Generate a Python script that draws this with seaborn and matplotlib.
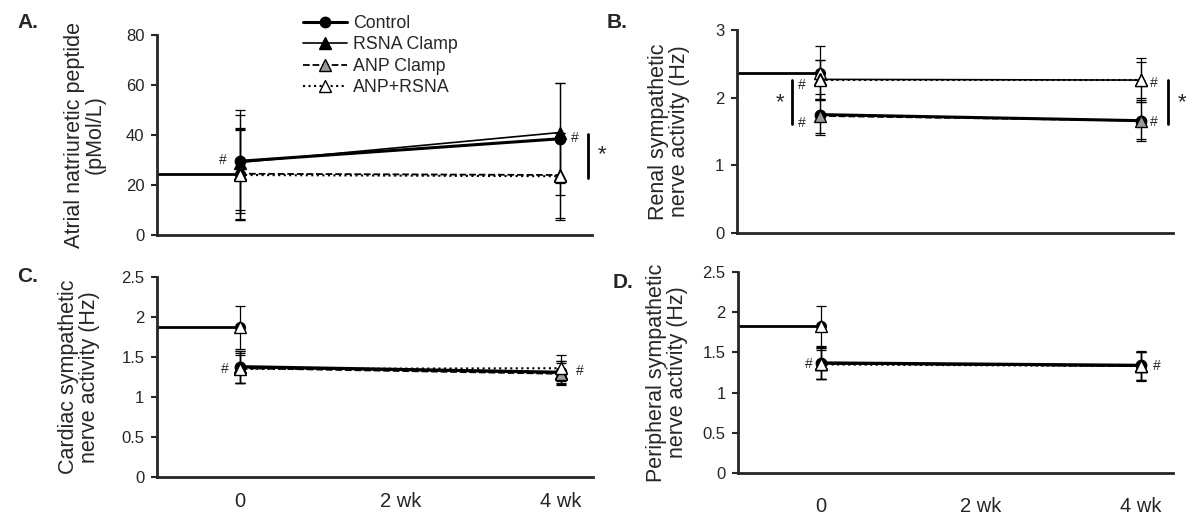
import matplotlib
matplotlib.use("Agg")
import matplotlib.pyplot as plt
import pandas as pd
import seaborn as sns

groups = ["Control", "RSNA Clamp", "ANP Clamp", "ANP+RSNA"]
weeks = [0, 4]
week_ticks = [0, 2, 4]
week_labels = ["0", "2 wk", "4 wk"]

# A. atrial natriuretic peptide (pMol/L)
anp_base, anp_base_sd = 24.5, 18.5
anp_mean = [[29.5, 38.5], [29.0, 41.0], [24.5, 24.0], [24.0, 23.5]]
anp_sd = [[20.5, 22.5], [19.0, 20.0], [18.0, 17.0], [18.0, 17.5]]

# B. renal SNA (Hz)
rsna_base, rsna_base_sd = 2.37, 0.40
rsna_mean = [[1.75, 1.66], [2.27, 2.26], [1.73, 1.66], [2.26, 2.26]]
rsna_sd = [[0.30, 0.27], [0.29, 0.26], [0.25, 0.30], [0.30, 0.32]]

# C. cardiac SNA (Hz)
csna_base, csna_base_sd = 1.87, 0.27
csna_mean = [[1.38, 1.31], [1.37, 1.30], [1.36, 1.29], [1.35, 1.36]]
csna_sd = [[0.20, 0.14], [0.20, 0.15], [0.19, 0.13], [0.18, 0.16]]

# D. peripheral SNA (Hz)
psna_base, psna_base_sd = 1.83, 0.25
psna_mean = [[1.37, 1.34], [1.36, 1.33], [1.36, 1.33], [1.35, 1.33]]
psna_sd = [[0.20, 0.18], [0.19, 0.17], [0.19, 0.17], [0.18, 0.18]]

styles = {
    "Control":    dict(marker="o", markerfacecolor="k", linestyle="-", linewidth=2.2, markersize=7.5),
    "RSNA Clamp": dict(marker="^", markerfacecolor="k", linestyle="-", linewidth=1.2, markersize=8),
    "ANP Clamp":  dict(marker="^", markerfacecolor="#9a9a9a", linestyle="--", linewidth=1.3, markersize=8),
    "ANP+RSNA":   dict(marker="^", markerfacecolor="white", linestyle=":", linewidth=1.5, markersize=8),
}

sns.set_style("ticks")
plt.rcParams["font.family"] = ["Liberation Sans", "DejaVu Sans"]

fig = plt.figure(figsize=(11.94, 5.21), dpi=100)
W, H = 1194, 521


def draw_panel(rect, base, base_sd, means, sds, ylim, yticks, yticklabels, ylabel, label_x, show_x, xpad=11):
    ax = fig.add_axes(rect)
    ax.set_xlim(-1.03, 4.4)
    ax.set_ylim(*ylim)
    x0 = ax.get_xlim()[0]
    eb = dict(fmt="none", ecolor="k", elinewidth=0.9, capsize=3.5, capthick=0.9, zorder=1)

    # baseline period
    ax.plot([x0, 0], [base, base], color="k", lw=2, solid_capstyle="butt", zorder=2)
    ax.errorbar([0], [base], yerr=[base_sd], **eb)
    for m, s in zip(means, sds):
        ax.errorbar(weeks, m, yerr=s, **eb)
    ax.plot([0], [base], marker="o", color="k", markersize=7, zorder=3)
    ax.plot([0], [base], marker="^", markerfacecolor="white", markeredgecolor="k",
            markersize=8, linestyle="none", zorder=3)

    handles = []
    for g, m in zip(groups, means):
        df = pd.DataFrame({"week": weeks, "value": m})
        sns.lineplot(data=df, x="week", y="value", ax=ax, color="k", estimator=None,
                     markeredgecolor="k", markeredgewidth=1, zorder=4, label=g, **styles[g])
        handles.append(ax.lines[-1])
    if ax.get_legend() is not None:
        ax.get_legend().remove()

    sns.despine(ax=ax)
    for sp in ("left", "bottom"):
        ax.spines[sp].set_linewidth(2)
    ax.set_yticks(yticks)
    ax.set_yticklabels(yticklabels, fontsize=12)
    ax.tick_params(axis="y", direction="out", length=4, width=1.5, pad=5)
    ax.set_xticks(week_ticks)
    if show_x:
        ax.set_xticklabels(week_labels, fontsize=14.5)
    else:
        ax.set_xticklabels([])
    ax.tick_params(axis="x", length=0, pad=xpad)
    ax.set_xlabel("")
    ax.set_ylabel(ylabel, fontsize=15.5, linespacing=1.0)
    ax.yaxis.set_label_coords(label_x, 0.5)
    return ax, handles


axA, handles = draw_panel([157 / W, 1 - 235 / H, 435 / W, 200 / H], anp_base, anp_base_sd, anp_mean, anp_sd,
                          (0, 80), [0, 20, 40, 60, 80], ["0", "20", "40", "60", "80"],
                          "Atrial natriuretic peptide\n(pMol/L)", -0.117, False)
axB, _ = draw_panel([737 / W, 1 - 233 / H, 436 / W, 203 / H], rsna_base, rsna_base_sd, rsna_mean, rsna_sd,
                    (0, 3), [0, 1, 2, 3], ["0", "1", "2", "3"],
                    "Renal sympathetic\nnerve activity (Hz)", -0.108, False)
half = [0, 0.5, 1, 1.5, 2, 2.5]
half_lab = ["0", "0.5", "1", "1.5", "2", "2.5"]
axC, _ = draw_panel([157 / W, 1 - 477 / H, 436 / W, 200 / H], csna_base, csna_base_sd, csna_mean, csna_sd,
                    (0, 2.5), half, half_lab,
                    "Cardiac sympathetic\nnerve activity (Hz)", -0.131, True, xpad=11)
axD, _ = draw_panel([738 / W, 1 - 473 / H, 435 / W, 201 / H], psna_base, psna_base_sd, psna_mean, psna_sd,
                    (0, 2.5), half, half_lab,
                    "Peripheral sympathetic\nnerve activity (Hz)", -0.115, True, xpad=17)

# significance marks
hk = dict(fontsize=10, ha="center", va="center")
sk = dict(fontsize=16, ha="center", va="center")
axA.text(-0.21, 30, "#", **hk)
axA.text(4.18, 39, "#", **hk)
axA.plot([4.35, 4.35], [40.5, 23], color="k", lw=2, clip_on=False)
axA.text(4.53, 32, "*", clip_on=False, **sk)

axB.text(-0.22, 2.19, "#", **hk)
axB.text(-0.22, 1.62, "#", **hk)
axB.plot([-0.34, -0.34], [2.26, 1.61], color="k", lw=2)
axB.text(-0.49, 1.92, "*", **sk)
axB.text(4.16, 2.22, "#", **hk)
axB.text(4.16, 1.64, "#", **hk)
axB.plot([4.34, 4.34], [2.26, 1.61], color="k", lw=2, clip_on=False)
axB.text(4.51, 1.92, "*", clip_on=False, **sk)

axC.text(-0.18, 1.35, "#", **hk)
axC.text(4.24, 1.32, "#", **hk)
axD.text(-0.14, 1.35, "#", **hk)
axD.text(4.2, 1.33, "#", **hk)

fig.legend(handles, groups, loc="upper left", bbox_to_anchor=(303 / W, 1 - 15 / H),
           frameon=False, borderpad=0, borderaxespad=0, handlelength=2.5,
           handletextpad=0.3, labelspacing=0.25, fontsize=12.8, numpoints=1)

for txt, (px, py) in zip(["A.", "B.", "C.", "D."], [(17, 22), (607, 22), (17, 277), (613, 282)]):
    fig.text(px / W, 1 - py / H, txt, fontsize=15, fontweight="bold", ha="left", va="center")

fig.savefig("out.png", dpi=100)
